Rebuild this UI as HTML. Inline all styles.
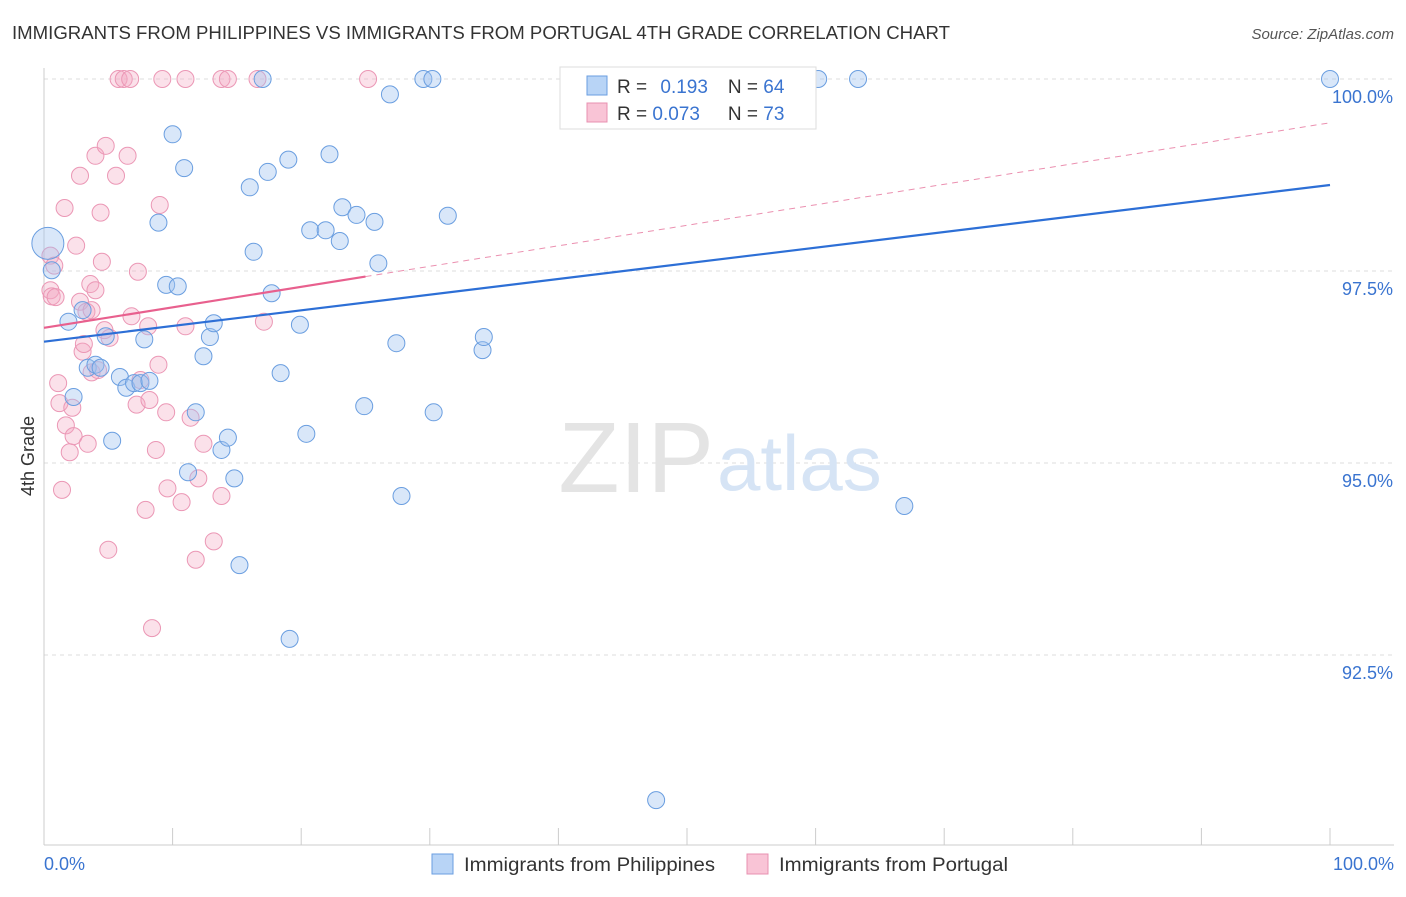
<!DOCTYPE html>
<html><head><meta charset="utf-8"><style>
body{margin:0;background:#fff;font-family:"Liberation Sans",sans-serif;}
svg text{font-family:"Liberation Sans",sans-serif;}
</style></head><body>
<svg id="chart" width="1406" height="892">
<text x="12" y="39" font-size="18" fill="#333" textLength="938" lengthAdjust="spacingAndGlyphs">IMMIGRANTS FROM PHILIPPINES VS IMMIGRANTS FROM PORTUGAL 4TH GRADE CORRELATION CHART</text>
<text x="1394" y="39" font-size="15" fill="#555" font-style="italic" text-anchor="end">Source: ZipAtlas.com</text>
<text x="34" y="456" font-size="18" fill="#333" transform="rotate(-90 34 456)" text-anchor="middle">4th Grade</text>
<g id="grid"></g>
<text x="714" y="492" font-size="100" fill="#e4e4e4" text-anchor="end" font-family="Liberation Serif">ZIP</text>
<text x="717" y="490" font-size="78" fill="#d6e4f5">atlas</text>
<g id="marks"></g>
<g id="legend">
<rect x="560" y="67" width="256" height="62" fill="#fff" stroke="#ddd"/>
<rect x="587" y="76" width="20" height="19" fill="#b8d4f6" stroke="#6a9ee0"/>
<rect x="587" y="103" width="20" height="19" fill="#f9c4d6" stroke="#e890b0"/>
<text x="617" y="93" font-size="19" fill="#333">R = <tspan fill="#3a74d0" dx="8">0.193</tspan><tspan fill="#333" dx="20">N = </tspan><tspan fill="#3a74d0">64</tspan></text>
<text x="617" y="120" font-size="19" fill="#333">R = <tspan fill="#3a74d0">0.073</tspan><tspan fill="#333" dx="28">N = </tspan><tspan fill="#3a74d0">73</tspan></text>
</g>
<g>
<rect x="432" y="854" width="21" height="20" fill="#b8d4f6" stroke="#6a9ee0"/>
<text x="464" y="871" font-size="19" fill="#333" textLength="251" lengthAdjust="spacingAndGlyphs">Immigrants from Philippines</text>
<rect x="747" y="854" width="21" height="20" fill="#f9c4d6" stroke="#e890b0"/>
<text x="779" y="871" font-size="19" fill="#333" textLength="229" lengthAdjust="spacingAndGlyphs">Immigrants from Portugal</text>
</g>
</svg>
<script>
const yTicks=[92.5,95.0,97.5,100.0];
const yTickLabels=["92.5%","95.0%","97.5%","100.0%"];
const xTicks=[0,10,20,30,40,50,60,70,80,90,100];
const bluePoints=[[0.3,97.86],[0.6,97.51],[1.9,96.84],[2.3,95.86],[3.0,96.99],[3.4,96.24],[4.0,96.28],[4.4,96.24],[4.8,96.65],[5.3,95.29],[5.9,96.12],[6.4,95.98],[7.0,96.04],[7.5,96.04],[7.8,96.61],[8.2,96.07],[8.9,98.13],[9.5,97.32],[10.0,99.28],[10.4,97.30],[10.9,98.84],[11.2,94.88],[11.8,95.66],[12.4,96.39],[12.9,96.64],[13.2,96.82],[13.8,95.17],[14.3,95.33],[14.8,94.80],[15.2,93.67],[16.0,98.59],[16.3,97.75],[17.0,100],[17.4,98.79],[17.7,97.21],[18.4,96.17],[19.0,98.95],[19.1,92.71],[19.9,96.80],[20.4,95.38],[20.7,98.03],[21.9,98.03],[22.2,99.02],[23.0,97.89],[23.2,98.33],[24.3,98.23],[24.9,95.74],[25.7,98.14],[26.0,97.60],[26.9,99.80],[27.4,96.56],[27.8,94.57],[29.5,100],[30.2,100],[30.3,95.66],[31.4,98.22],[34.1,96.47],[34.2,96.64],[47.6,90.61],[60.2,100],[63.3,100],[66.9,94.44],[100,100]];
const pinkPoints=[[0.5,97.70],[0.5,97.25],[0.6,97.17],[0.8,97.57],[0.9,97.16],[1.1,96.04],[1.2,95.78],[1.4,94.65],[1.6,98.32],[1.7,95.49],[2.0,95.14],[2.2,95.72],[2.3,95.35],[2.5,97.83],[2.8,97.10],[2.8,98.74],[3.0,96.45],[3.1,96.55],[3.3,96.97],[3.4,95.25],[3.6,97.33],[3.7,96.18],[3.7,96.99],[4.0,97.25],[4.0,99.00],[4.2,96.21],[4.4,98.26],[4.5,97.62],[4.7,96.73],[4.8,99.13],[5.0,93.87],[5.1,96.63],[5.6,98.74],[5.8,100],[6.2,100],[6.5,99.00],[6.7,100],[6.8,96.91],[7.2,95.76],[7.3,97.49],[7.5,96.08],[7.9,94.39],[8.1,96.78],[8.2,95.82],[8.4,92.85],[8.7,95.17],[8.9,96.28],[9.0,98.36],[9.2,100],[9.5,95.66],[9.6,94.67],[10.7,94.49],[11.0,100],[11.0,96.78],[11.4,95.59],[11.8,93.74],[12.0,94.80],[12.4,95.25],[13.2,93.98],[13.8,94.57],[13.8,100],[14.3,100],[16.6,100],[17.1,96.84],[25.2,100]];
const blueTrend=[96.58,98.62];
const pinkTrend=[96.76,99.43];
const pinkSolidEnd=25;

const X0=44,X1=1330,Ytop=79,pxPerPct=76.8;
const sx=v=>X0+(X1-X0)*v/100;
const sy=v=>Ytop+(100-v)*pxPerPct;
const NS="http://www.w3.org/2000/svg";
function mk(tag,attrs,parent){const e=document.createElementNS(NS,tag);for(const k in attrs)e.setAttribute(k,attrs[k]);parent.appendChild(e);return e;}
const grid=document.getElementById('grid'),marks=document.getElementById('marks');
yTicks.forEach((t,i)=>{
  const l=mk('line',{x1:X0,x2:1394,y1:sy(t),y2:sy(t),stroke:'#ddd','stroke-dasharray':'4,4'},grid);
  
  
  const tx=mk('text',{x:1393,y:sy(t)+24,'font-size':18,fill:'#3a74d0','text-anchor':'end'},grid);
  tx.textContent=yTickLabels[i];
  
  
});
const ax=mk('line',{x1:X0,x2:1394,y1:845,y2:845,stroke:'#ccc'},grid);


const ay=mk('line',{x1:X0,x2:X0,y1:68,y2:845,stroke:'#ccc'},grid);


xTicks.forEach(t=>{
  const l=mk('line',{x1:sx(t),x2:sx(t),y1:828,y2:845,stroke:'#ccc'},grid);
  
  
});
[[0,"0.0%",'start',44],[100,"100.0%",'end',1394]].forEach(a=>{
  const t=mk('text',{x:a[3],y:870,'font-size':18,fill:'#3a74d0','text-anchor':a[2]},grid);
  t.textContent=a[1];
  
  
});
pinkPoints.forEach(p=>{
  const c=mk('circle',{cx:sx(p[0]),cy:sy(p[1]),r:8.5,fill:'rgba(244,170,196,0.35)',stroke:'#eb97b5','stroke-width':1},marks);
  
  
});
bluePoints.forEach((p,i)=>{
  const c=mk('circle',{cx:sx(p[0]),cy:sy(p[1]),r:i===0?16:8.5,fill:'rgba(160,196,240,0.4)',stroke:'#6a9ee0','stroke-width':1},marks);
  
  
});
const bt=mk('line',{x1:sx(0),y1:sy(blueTrend[0]),x2:sx(100),y2:sy(blueTrend[1]),stroke:'#2d6fd6','stroke-width':2.2},marks);


const pAt=v=>pinkTrend[0]+(pinkTrend[1]-pinkTrend[0])*v/100;
const pd=mk('line',{x1:sx(pinkSolidEnd),y1:sy(pAt(pinkSolidEnd)),x2:sx(100),y2:sy(pinkTrend[1]),stroke:'#eb90b0','stroke-width':1,'stroke-dasharray':'6,5'},marks);


const ps=mk('line',{x1:sx(0),y1:sy(pinkTrend[0]),x2:sx(pinkSolidEnd),y2:sy(pAt(pinkSolidEnd)),stroke:'#e8608e','stroke-width':2.2},marks);


</script>
</body></html>
